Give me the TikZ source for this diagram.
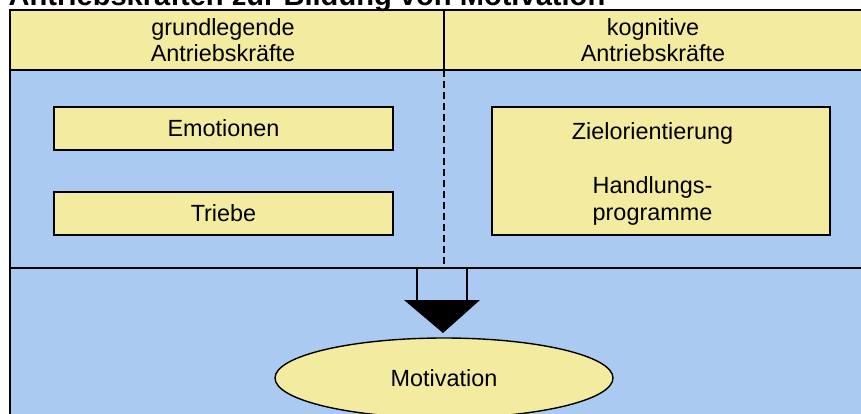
\documentclass[tikz,border=0pt]{standalone}
\usepackage{fontspec}
\setmainfont{Liberation Sans}
\usetikzlibrary{shapes.geometric}

\definecolor{paleyellow}{RGB}{243,235,160}
\definecolor{paleblue}{RGB}{170,202,242}

\begin{document}
\begin{tikzpicture}[x=1pt, y=-1pt, every node/.style={text=black, font=\fontsize{23.4}{26.5}\selectfont}, every path/.style={line width=1.4pt}]

    \useasboundingbox (0,0) rectangle (861,414);

    % Background bands
    \fill[paleyellow] (10,10) rectangle (870,70);
    \fill[paleblue] (10,70) rectangle (870,430);
    \draw (870,10) -- (10,10) -- (10,430);
    \draw (10,70) -- (870,70);
    \draw (10,268) -- (870,268);

    % Title (cut off at top)
    \node[anchor=base west, inner sep=0pt, font=\bfseries\fontsize{29.1}{30}\selectfont] (title) at (8,6) {Antriebskräften zur Bildung von Motivation};

    % Column headers
    \node[align=center] (grund) at (223,40) {grundlegende\\Antriebskräfte};
    \node[align=center] (kogn) at (653,40) {kognitive\\Antriebskräfte};

    % Divider
    \coordinate (divtop) at (444,10);
    \coordinate (divmid) at (444,70);
    \coordinate (divbot) at (444,268);
    \draw (divtop) -- (divmid);
    \draw[dash pattern=on 7pt off 4pt, line width=1.2pt] (divmid) -- (divbot);

    % Boxes
    \node[draw, fill=paleyellow, minimum width=339pt, minimum height=43pt, inner sep=0pt] (emo) at (223.5,128.5) {Emotionen};
    \node[draw, fill=paleyellow, minimum width=339pt, minimum height=43pt, inner sep=0pt] (trieb) at (223.5,213.5) {Triebe};
    \node[draw, fill=paleyellow, minimum width=338pt, minimum height=128pt, inner sep=0pt] (ziel) at (661,171) {};
    \node (zieltxt) at (652.5,133) {Zielorientierung};
    \node[align=center] (handl) at (652.5,201) {Handlungs-\\programme};

    % Motivation
    \node[ellipse, draw, fill=paleyellow, minimum width=338pt, minimum height=80pt, inner sep=0pt] (motiv) at (444,378) {Motivation};

    % Arrow
    \coordinate (sl) at (417,268);
    \coordinate (sr) at (467,268);
    \coordinate (hl) at (404,300);
    \coordinate (hr) at (480,300);
    \coordinate (tip) at (443,333);
    \draw (sl) -- (sl |- hl);
    \draw (sr) -- (sr |- hr);
    \fill[black] (hl) -- (hr) -- (tip) -- cycle;

\end{tikzpicture}
\end{document}
